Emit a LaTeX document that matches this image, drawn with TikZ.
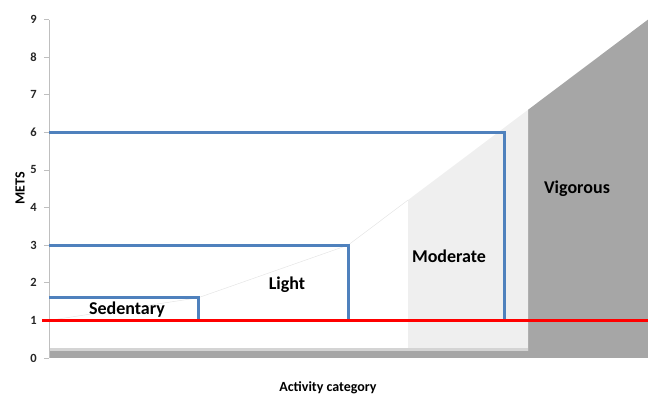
\documentclass[tikz,border=0pt]{standalone}
\usepackage{fontspec}
\setmainfont{Carlito}
\definecolor{metblue}{HTML}{4F81BD}
\definecolor{modgray}{HTML}{EFEFEF}
\definecolor{viggray}{HTML}{A6A6A6}
\definecolor{floorgray}{HTML}{D4D4D4}
\definecolor{axisgray}{HTML}{BFBFBF}
\definecolor{ticktext}{HTML}{262626}

\begin{document}
\begin{tikzpicture}[
    x=1pt, y=37.6pt,
    zone/.style={font=\fontsize{18}{20}\selectfont\bfseries, text=black},
    title/.style={font=\fontsize{14}{16}\selectfont\bfseries, text=black},
    ticklabel/.style={font=\fontsize{12.5}{14}\selectfont\bfseries,
        text=ticktext, anchor=east, inner sep=0pt},
    limit/.style={draw=metblue, line width=3pt},
    baseline/.style={draw=red, line width=3pt}
]
    \useasboundingbox (-49,-1.0106) rectangle (599,9.521);
    \fill[viggray] (479,0) -- (479,6.6) -- (599,9) -- (599,0) -- cycle;
    \fill[modgray] (359,0.19) -- (359,4.2) -- (479,6.6) -- (479,0.19) -- cycle;
    \fill[viggray] (0,0) rectangle (479,0.19);
    \fill[floorgray] (0,0.19) rectangle (479,0.27);
    \draw[black!10, line width=0.5pt] (0,1) -- (149,1.6) -- (299,3) -- (359,4.2);
    \draw[axisgray, line width=0.8pt] (0,0) -- (0,9);
    \foreach \y in {0,...,9} {
        \draw[axisgray, line width=0.8pt] (-5,\y) -- (0,\y);
        \node[ticklabel] (t\y) at (-12,\y) {\y};
    }
    \coordinate (sedtop) at (0,1.6);
    \coordinate (sedcorner) at (149,1.6);
    \coordinate (sedfoot) at (149,1);
    \coordinate (lighttop) at (0,3);
    \coordinate (lightcorner) at (299,3);
    \coordinate (lightfoot) at (299,1);
    \coordinate (modtop) at (0,6);
    \coordinate (modcorner) at (455,6);
    \coordinate (modfoot) at (455,1);
    \coordinate (redstart) at (-7,1);
    \coordinate (redend) at (599,1);
    \draw[limit] (sedtop) -- (sedcorner) -- (sedfoot);
    \draw[limit] (lighttop) -- (lightcorner) -- (lightfoot);
    \draw[limit] (modtop) -- (modcorner) -- (modfoot);
    \draw[baseline] (redstart) -- (redend);
    \node[zone] (sed) at (78,1.30) {Sedentary};
    \node[zone] (light) at (238,1.94) {Light};
    \node[zone] (mod) at (400,2.71) {Moderate};
    \node[zone] (vig) at (528,4.49) {Vigorous};
    \node[title, rotate=90] (ytitle) at (-29,4.52) {METS};
    \node[title] (xtitle) at (279,-0.78) {Activity category};
\end{tikzpicture}
\end{document}
